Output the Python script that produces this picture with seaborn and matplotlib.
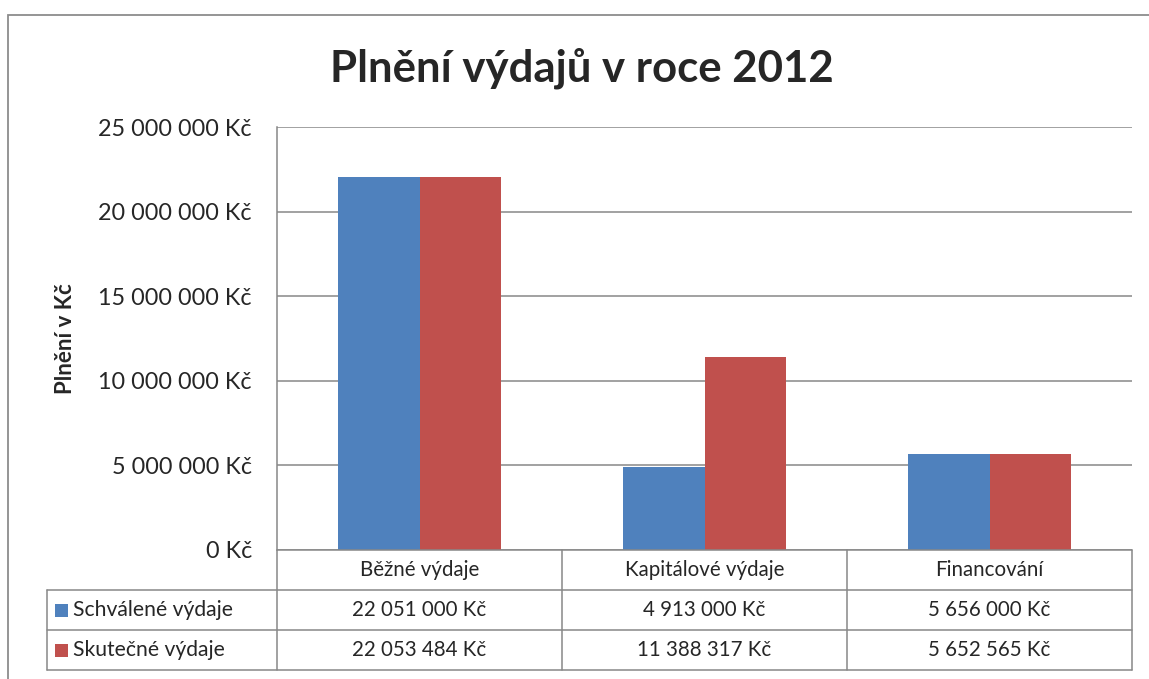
import matplotlib
matplotlib.use("Agg")
import matplotlib.pyplot as plt
import matplotlib.transforms as mtransforms
from matplotlib.patches import Rectangle
import pandas as pd
import seaborn as sns

CATEGORIES = ["Běžné výdaje", "Kapitálové výdaje", "Financování"]
SERIES = ["Schválené výdaje", "Skutečné výdaje"]
APPROVED = [22051000, 4913000, 5656000]
ACTUAL = [22053484, 11388317, 5652565]
COLORS = ["#4F81BD", "#C0504D"]
Y_TICKS = [0, 5000000, 10000000, 15000000, 20000000, 25000000]

GRID = "#888888"
FONT = ["Lato", "DejaVu Sans"]


def kc(value: float) -> str:
    return f"{value:,.0f}".replace(",", " ") + " Kč"


def main() -> None:
    sns.set_theme(style="white")
    plt.rcParams["font.family"] = FONT

    data = pd.DataFrame(
        {
            "category": CATEGORIES * 2,
            "series": [SERIES[0]] * 3 + [SERIES[1]] * 3,
            "value": APPROVED + ACTUAL,
        }
    )

    fig = plt.figure(figsize=(11.49, 6.79), dpi=100)
    fig.patch.set_facecolor("white")
    # outer chart frame (runs off right and bottom edge)
    fig.patches.append(
        Rectangle((8 / 1149, -0.2), 1.2, 1.2 - 15 / 679,
                  transform=fig.transFigure, fill=False,
                  edgecolor="#8c8c8c", linewidth=1.3)
    )

    ax = fig.add_axes([277 / 1149, 1 - 550 / 679, 855 / 1149, 423 / 679])
    sns.barplot(
        data=data, x="category", y="value", hue="series",
        palette=COLORS, width=0.57, gap=0, saturation=1,
        edgecolor="none", linewidth=0, ax=ax, legend=False,
    )
    ax.set_xlim(-0.5, 2.5)
    ax.set_ylim(0, 25000000)
    ax.set_yticks(Y_TICKS)
    ax.set_yticklabels([kc(v) for v in Y_TICKS], fontsize=16.8)
    ax.tick_params(axis="y", length=0, pad=18)
    ax.set_xticks([])
    ax.set_xlabel("")
    ax.set_ylabel("Plnění v Kč", fontsize=16, fontweight="bold", labelpad=16)
    ax.yaxis.grid(True, color=GRID, linewidth=1.1)
    ax.set_axisbelow(True)
    for side in ["right", "bottom", "top"]:
        ax.spines[side].set_visible(False)
    ax.spines["left"].set_color(GRID)
    ax.spines["left"].set_linewidth(1.1)

    fig.text(582 / 1149, 1 - 68 / 679, "Plnění výdajů v roce 2012",
             ha="center", va="center", fontsize=31.5, fontweight="bold")

    # data table below the plot
    trans = mtransforms.blended_transform_factory(ax.transData, ax.transAxes)
    row_h = 40 / 423
    left_edge = -0.5 - 230 / 285
    line_kw = dict(color=GRID, linewidth=1.1, transform=trans, clip_on=False)

    ax.plot([-0.5, 2.5], [0, 0], **line_kw)
    for i in range(1, 4):
        ax.plot([left_edge, 2.5], [-i * row_h, -i * row_h], **line_kw)
    for xb in [-0.5, 0.5, 1.5, 2.5]:
        ax.plot([xb, xb], [0, -3 * row_h], **line_kw)
    ax.plot([left_edge, left_edge], [-row_h, -3 * row_h], **line_kw)

    table_fs = 14.8
    for i, cat in enumerate(CATEGORIES):
        ax.text(i, -0.5 * row_h, cat, transform=trans, ha="center",
                va="center", fontsize=table_fs)
    for r, (name, values, color) in enumerate(zip(SERIES, [APPROVED, ACTUAL], COLORS)):
        yc = -(r + 1.5) * row_h
        sw_w = 13 / 285
        sw_h = 13 / 423
        ax.add_patch(Rectangle((left_edge + 8 / 285, yc - sw_h / 2), sw_w, sw_h,
                               transform=trans, facecolor=color,
                               edgecolor="none", clip_on=False))
        ax.text(left_edge + 26 / 285, yc, name, transform=trans, ha="left",
                va="center", fontsize=15.2)
        for i, v in enumerate(values):
            ax.text(i, yc, kc(v), transform=trans, ha="center",
                    va="center", fontsize=table_fs)

    fig.savefig("out.png", dpi=100)


if __name__ == "__main__":
    main()
